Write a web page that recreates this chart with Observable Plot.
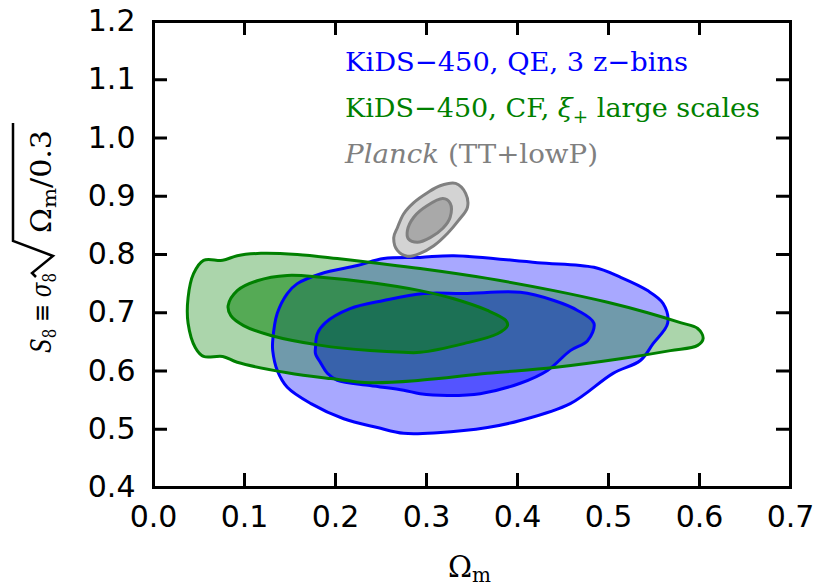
<!DOCTYPE html>
<html>
<head>
<meta charset="utf-8">
<script src="https://cdn.jsdelivr.net/npm/d3@7"></script>
<script src="https://cdn.jsdelivr.net/npm/@observablehq/plot@0.6"></script>
<style>
  html, body { margin: 0; padding: 0; background: white; }
</style>
</head>
<body>
<script>
// ---- Data (Omega_m, S8) ----
const xTicks = [0.0, 0.1, 0.2, 0.3, 0.4, 0.5, 0.6, 0.7];
const yTicks = [0.4, 0.5, 0.6, 0.7, 0.8, 0.9, 1.0, 1.1, 1.2];

const blueOuter = [
  [0.131,0.652],[0.136,0.699],[0.147,0.733],[0.158,0.750],[0.184,0.767],[0.224,0.781],
  [0.253,0.793],[0.293,0.795],[0.330,0.798],[0.422,0.786],[0.484,0.778],[0.513,0.761],
  [0.543,0.738],[0.560,0.716],[0.565,0.682],[0.549,0.647],[0.535,0.618],[0.505,0.596],
  [0.458,0.544],[0.403,0.515],[0.367,0.503],[0.312,0.494],[0.275,0.493],[0.246,0.503],
  [0.209,0.518],[0.173,0.544],[0.147,0.572],[0.136,0.601],[0.131,0.635]
];
const blueInner = [
  [0.178,0.640],[0.180,0.664],[0.189,0.683],[0.216,0.707],[0.253,0.721],[0.297,0.733],
  [0.341,0.733],[0.403,0.735],[0.440,0.721],[0.466,0.704],[0.484,0.682],[0.477,0.652],
  [0.458,0.635],[0.433,0.601],[0.403,0.579],[0.359,0.561],[0.323,0.558],[0.293,0.561],
  [0.275,0.567],[0.238,0.575],[0.202,0.584],[0.191,0.596],[0.184,0.613],[0.178,0.630]
];
const greenOuter = [
  [0.055,0.790],[0.076,0.790],[0.092,0.798],[0.118,0.802],[0.158,0.800],[0.202,0.793],
  [0.246,0.785],[0.293,0.776],[0.367,0.759],[0.440,0.738],[0.499,0.718],[0.543,0.700],
  [0.579,0.683],[0.598,0.673],[0.604,0.656],[0.598,0.644],[0.568,0.635],[0.513,0.621],
  [0.440,0.606],[0.367,0.596],[0.293,0.584],[0.238,0.580],[0.195,0.587],[0.147,0.597],
  [0.092,0.615],[0.076,0.625],[0.055,0.625],[0.046,0.640],[0.038,0.682],[0.038,0.726],
  [0.044,0.767]
];
const greenInner = [
  [0.082,0.712],[0.092,0.738],[0.114,0.755],[0.147,0.764],[0.184,0.761],[0.238,0.752],
  [0.293,0.738],[0.330,0.724],[0.367,0.704],[0.387,0.687],[0.389,0.678],[0.378,0.664],
  [0.341,0.647],[0.293,0.632],[0.275,0.632],[0.238,0.635],[0.184,0.644],[0.129,0.661],
  [0.099,0.678],[0.085,0.695]
];
const planckOuter = [
  [0.264,0.829],[0.268,0.846],[0.275,0.870],[0.286,0.889],[0.301,0.906],[0.315,0.918],
  [0.332,0.922],[0.343,0.905],[0.345,0.881],[0.335,0.858],[0.323,0.836],[0.308,0.815],
  [0.293,0.802],[0.279,0.797],[0.268,0.807]
];
const planckInner = [
  [0.279,0.841],[0.286,0.864],[0.301,0.884],[0.318,0.896],[0.326,0.888],[0.326,0.864],
  [0.318,0.845],[0.304,0.829],[0.290,0.821],[0.280,0.827]
];

const BLUE = "#0000ff", GREEN = "#008000", GREY = "#808080";
const W = 817, H = 586, ML = 153, MR = 27, MT = 21, MB = 99;
const PW = W - ML - MR, PH = H - MT - MB, TICK = 14;

const layers = [
  {pts: blueOuter, color: BLUE, op: 0.34},
  {pts: blueInner, color: BLUE, op: 0.5},
  {pts: greenOuter, color: GREEN, op: 0.33},
  {pts: greenInner, color: GREEN, op: 0.5},
  {pts: planckOuter, color: GREY, op: 0.35},
  {pts: planckInner, color: GREY, op: 0.5}
];
const CURVE = "catmull-rom-closed";
const fills = layers.map(l => Plot.line(l.pts, {
  x: d => d[0], y: d => d[1], curve: CURVE,
  fill: l.color, fillOpacity: l.op, stroke: "none"
}));
const strokes = layers.map(l => Plot.line(l.pts, {
  x: d => d[0], y: d => d[1], curve: CURVE,
  fill: "none", stroke: l.color, strokeWidth: 3, strokeLinejoin: "round"
}));

const chart = Plot.plot({
  width: W, height: H,
  marginLeft: ML, marginRight: MR, marginTop: MT, marginBottom: MB,
  x: {domain: [0, 0.7]},
  y: {domain: [0.4, 1.2]},
  style: {fontFamily: "DejaVu Sans", fontSize: "30px", color: "black", background: "white", overflow: "visible"},
  marks: [
    ...fills,
    ...strokes,
    Plot.tickX(xTicks, {x: d => d, insetTop: PH - TICK, strokeWidth: 3}),
    Plot.tickX(xTicks, {x: d => d, insetBottom: PH - TICK, strokeWidth: 3}),
    Plot.tickY(yTicks, {y: d => d, insetRight: PW - TICK, strokeWidth: 3}),
    Plot.tickY(yTicks, {y: d => d, insetLeft: PW - TICK, strokeWidth: 3}),
    Plot.frame({stroke: "black", strokeWidth: 3}),
    Plot.axisX({ticks: xTicks, tickSize: 0, tickPadding: 18, fontSize: 30, tickFormat: d => d.toFixed(1), label: null}),
    Plot.axisY({ticks: yTicks, tickSize: 0, tickPadding: 18, fontSize: 30, tickFormat: d => d.toFixed(1), label: null})
  ]
});
document.body.append(chart);

// ---- Text annotations (legend, axis labels) ----
const svg = d3.select(chart);
const SERIF = "'DejaVu Serif', 'Liberation Serif', serif";

function serifText(sel, size) {
  return sel.style("font-family", SERIF).style("font-size", size + "px").attr("text-anchor", "start");
}

function addLine(y, color, width, parts) {
  const t = serifText(svg.append("text"), 26.5).attr("x", 345).attr("y", y).attr("fill", color);
  parts.forEach(p => {
    const s = t.append("tspan").text(p.t);
    if (p.i) s.style("font-style", "italic");
    if (p.sub) s.style("font-size", "18px").attr("dy", 6);
    if (p.up) s.attr("dy", -6);
  });
  t.attr("textLength", width).attr("lengthAdjust", "spacingAndGlyphs");
}
addLine(71, BLUE, 343, [{t: "KiDS\u2212450, QE, 3 z\u2212bins"}]);
addLine(117, GREEN, 415, [{t: "KiDS\u2212450, CF, "}, {t: "\u03BE", i: true}, {t: "+", sub: true}, {t: " large scales", up: true}]);
addLine(163, GREY, 253, [{t: "Planck", i: true}, {t: " (TT+lowP)"}]);

// x label: Omega_m
const xl = serifText(svg.append("text"), 29).attr("x", 448).attr("y", 577).attr("fill", "black");
xl.append("tspan").text("\u03A9");
xl.append("tspan").text("m").style("font-size", "20px").attr("dy", 5);

// y label: S8 = sigma8 sqrt(Omega_m / 0.3), drawn in a rotated group
const g = svg.append("g").attr("transform", "translate(51,237) rotate(-90)");
const left = serifText(g.append("text"), 27).attr("x", -36).attr("y", 0).attr("text-anchor", "end").attr("fill", "black");
left.append("tspan").text("S").style("font-style", "italic");
left.append("tspan").text("8").style("font-size", "19px").attr("dy", 5);
left.append("tspan").text(" \u2261 ").attr("dy", -5);
left.append("tspan").text("\u03C3").style("font-style", "italic");
left.append("tspan").text("8").style("font-size", "19px").attr("dy", 5);
left.attr("textLength", 80).attr("lengthAdjust", "spacingAndGlyphs");

const rad = serifText(g.append("text"), 27).attr("x", 4).attr("y", 0).attr("fill", "black");
rad.append("tspan").text("\u03A9");
rad.append("tspan").text("m").style("font-size", "19px").attr("dy", 5);
rad.append("tspan").text("/0.3").attr("dy", -5);
rad.attr("textLength", 103).attr("lengthAdjust", "spacingAndGlyphs");
g.append("path")
  .attr("d", "M-40,-15 L-36,-19 L-19,2 L-4,-38 L114,-38")
  .attr("fill", "none").attr("stroke", "black").attr("stroke-width", 2.5).attr("stroke-linejoin", "miter");
</script>
</body>
</html>
